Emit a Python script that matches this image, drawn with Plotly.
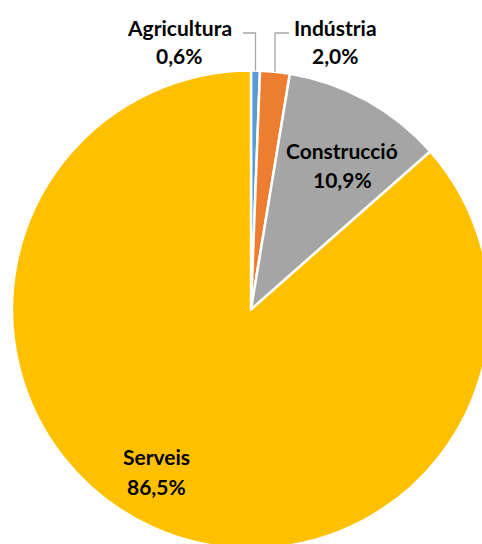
import math
import plotly.graph_objects as go

# Employment share by sector (%)
sectors = ["Agricultura", "Indústria", "Construcció", "Serveis"]
shares = [0.6, 2.0, 10.9, 86.5]
colors = ["#5B9BD5", "#ED7D31", "#A5A5A5", "#FFC000"]

# Canvas is a bit larger than the visible page; the pie runs off the right and bottom edges
W, H = 500, 560
CX, CY, R = 251, 309.5, 239  # pie centre and radius in pixels

FONT = dict(family="Lato, 'Open Sans', sans-serif", size=21, color="#000000")


def px(x):
    return x / W


def py(y):
    return 1 - y / H


def fmt(v):
    return f"{v:.1f}".replace(".", ",") + "%"


fig = go.Figure(
    go.Pie(
        labels=sectors,
        values=shares,
        sort=False,
        direction="clockwise",
        rotation=0,
        marker=dict(colors=colors, line=dict(color="white", width=2.5)),
        textinfo="none",
        hoverinfo="label+percent",
        domain=dict(x=[px(CX - R), px(CX + R)], y=[py(CY + R), py(CY - R)]),
    )
)

# Mid-angle of each slice (degrees clockwise from 12 o'clock)
total = sum(shares)
mid = []
acc = 0.0
for v in shares:
    mid.append((acc + v / 2) / total * 360)
    acc += v

# Label block centres (x, name line y, value line y) in pixels
label_pos = {
    "Agricultura": (179, 27, 56),
    "Indústria": (335, 27, 56),
    "Construcció": (342, 151, 180),
    "Serveis": (156, 456, 486),
}

annotations = []
for name, v in zip(sectors, shares):
    x, y1, y2 = label_pos[name]
    for text, yy in ((name, y1), (fmt(v), y2)):
        annotations.append(
            dict(
                x=px(x), y=py(yy), xref="paper", yref="paper",
                text=f"<b>{text}</b>", showarrow=False,
                xanchor="center", yanchor="middle", font=FONT,
            )
        )

# Leader lines for the two thin slices: elbow from the label down to the rim
shapes = []
leader = {"Agricultura": (243, 33), "Indústria": (289, 33)}
for i, name in enumerate(sectors):
    if name not in leader:
        continue
    lx, ly = leader[name]
    a = math.radians(mid[i])
    ex = CX + R * math.sin(a)
    ey = CY - R * math.cos(a)
    path = f"M {px(lx)} {py(ly)} L {px(ex)} {py(ly)} L {px(ex)} {py(ey)}"
    shapes.append(
        dict(type="path", path=path, xref="paper", yref="paper",
             line=dict(color="#A6A6A6", width=1.3))
    )

fig.update_layout(
    width=W,
    height=H,
    margin=dict(l=0, r=0, t=0, b=0),
    paper_bgcolor="white",
    plot_bgcolor="white",
    showlegend=False,
    annotations=annotations,
    shapes=shapes,
)

fig.write_html(
    "out.html",
    config={"displayModeBar": False},
    post_script="document.body.style.margin='0';document.body.style.overflow='hidden';",
)
